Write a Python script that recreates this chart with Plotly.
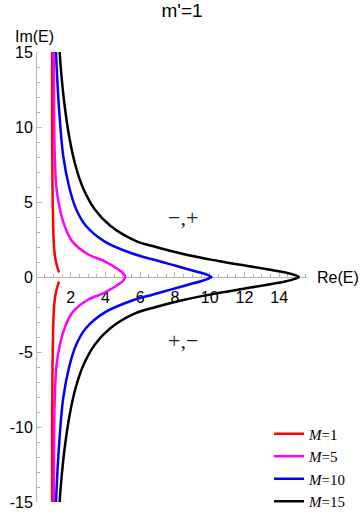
import plotly.graph_objects as go

# upper branches (lower halves are mirror images)
im_black = [15, 13.5, 11.5, 9.3, 7.4, 5.9, 4.5, 3.43, 2.43, 2.0, 1.5, 1.07, 0.75, 0.5, 0.3, 0.13, 0]
re_black = [1.36, 1.46, 1.64, 1.92, 2.28, 2.72, 3.39, 4.26, 5.7, 6.9, 8.6, 10.5, 12.1, 13.4, 14.35, 14.9, 15.13]

im_blue = [15, 11.5, 8.05, 5.9, 4.5, 3.43, 2.36, 1.58, 1.18, 0.86, 0.53, 0.28, 0.12, 0]
re_blue = [1.15, 1.31, 1.57, 1.93, 2.32, 2.86, 3.96, 5.5, 6.7, 7.7, 8.7, 9.5, 9.9, 10.1]

im_magenta = [15, 11.5, 8.05, 5.9, 4.5, 3.43, 2.36, 1.5, 1.07, 0.53, 0.25, 0]
re_magenta = [1.02, 1.04, 1.08, 1.18, 1.38, 1.64, 2.1, 3.01, 3.9, 4.7, 5.02, 5.13]

im_red = [15, 10, 6, 4.5, 2.36, 1.5, 1.07, 0.6, 0.3]
re_red = [0.93, 0.93, 0.95, 0.97, 1.02, 1.08, 1.14, 1.24, 1.33]

x_ticks = [2, 4, 6, 8, 10, 12, 14]
y_ticks = [15, 10, 5, 0, -5, -10, -15]
y_ticktext = ["15", "10", "5", "0", "-5", "-10", "-15"]

SANS = "Liberation Sans, Arial, sans-serif"
SERIF = "Liberation Serif, Times New Roman, serif"
AXIS_GRAY = "#b5b5b5"


def full_curve(im, re, gap=False):
    # upper branch top->tip, then mirrored lower branch tip->bottom
    if gap:
        xs = list(re) + [None] + list(reversed(re))
        ys = list(im) + [None] + [-v for v in reversed(im)]
    else:
        xs = list(re) + list(reversed(re[:-1]))
        ys = list(im) + [-v for v in reversed(im[:-1])]
    return xs, ys


curves = [
    ("<i>M</i>=1", im_red, re_red, "#ff0000", True),
    ("<i>M</i>=5", im_magenta, re_magenta, "#ff00ff", False),
    ("<i>M</i>=10", im_blue, re_blue, "#0000ff", False),
    ("<i>M</i>=15", im_black, re_black, "#000000", False),
]

fig = go.Figure()
for name, im, re, color, gap in curves:
    xs, ys = full_curve(im, re, gap)
    fig.add_trace(go.Scatter(
        x=xs, y=ys, mode="lines", name=name,
        line=dict(color=color, width=2.5, shape="spline", smoothing=1.0),
        connectgaps=False,
    ))

fig.add_annotation(x=8.47, y=4.0, text="\u2212,+", showarrow=False,
                   font=dict(family=SERIF, size=22, color="#222"))
fig.add_annotation(x=8.47, y=-4.2, text="+,\u2212", showarrow=False,
                   font=dict(family=SERIF, size=22, color="#222"))
fig.add_annotation(x=1.03, xref="paper", y=0, yref="y", text="Re(E)", showarrow=False,
                   xanchor="left", yanchor="middle", font=dict(family=SANS, size=16, color="black"))
fig.add_annotation(x=-0.007, xref="paper", y=1.035, yref="paper", text="Im(E)", showarrow=False,
                   xanchor="center", yanchor="middle", font=dict(family=SANS, size=16, color="black"))

fig.update_layout(
    width=364, height=527,
    paper_bgcolor="white", plot_bgcolor="white",
    margin=dict(l=32, r=57, t=52, b=10),
    title=dict(text="m'=1", x=0.5, xanchor="center", y=0.98, yanchor="middle",
               font=dict(family=SANS, size=19, color="black")),
    font=dict(family=SANS, size=16, color="black"),
    showlegend=True,
    legend=dict(x=0.86, y=0.188, xanchor="left", yanchor="top",
                bgcolor="rgba(0,0,0,0)", font=dict(family=SERIF, size=15, color="black"),
                tracegroupgap=0),
)

fig.update_xaxes(
    range=[0, 15.6], anchor="free", position=0.5, layer="below traces",
    showline=True, linecolor=AXIS_GRAY, linewidth=1,
    showgrid=False, zeroline=False,
    tickmode="array", tickvals=x_ticks, ticktext=[str(v) for v in x_ticks],
    ticks="inside", ticklen=5, tickcolor=AXIS_GRAY, ticklabelstandoff=6,
    minor=dict(tickmode="linear", tick0=0, dtick=0.5, ticks="inside", ticklen=3,
               tickcolor=AXIS_GRAY, showgrid=False),
    tickfont=dict(family=SANS, size=16, color="black"),
)
fig.update_yaxes(
    range=[-15, 15], anchor="free", position=0, layer="below traces",
    showline=True, linecolor=AXIS_GRAY, linewidth=1,
    showgrid=False, zeroline=False,
    tickmode="array", tickvals=y_ticks, ticktext=y_ticktext,
    ticks="inside", ticklen=5, tickcolor=AXIS_GRAY,
    minor=dict(tickmode="linear", tick0=0, dtick=1, ticks="inside", ticklen=3,
               tickcolor=AXIS_GRAY, showgrid=False),
    tickfont=dict(family=SANS, size=16, color="black"),
)

fig.write_html("out.html", config={"displayModeBar": False},
               post_script="document.body.style.margin='0';")
